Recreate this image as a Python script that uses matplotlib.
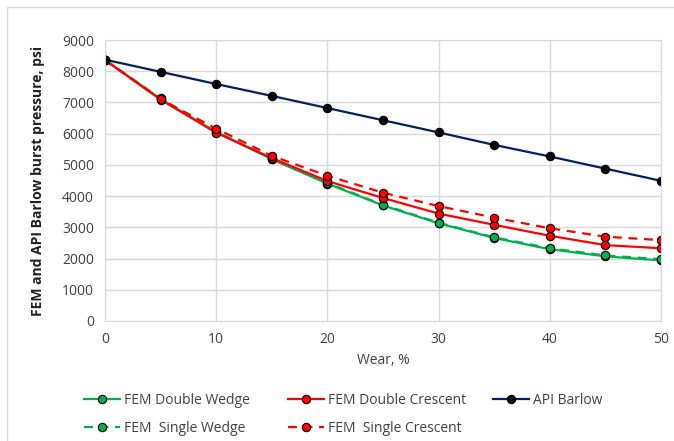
# Wykres ciśnienia rozrywającego w funkcji zużycia
import matplotlib.pyplot as plt
from matplotlib.patches import Rectangle

# Dane
wear = [0, 5, 10, 15, 20, 25, 30, 35, 40, 45, 50]
double_wedge = [8360, 7110, 6050, 5180, 4400, 3700, 3130, 2660, 2300, 2070, 1940]
double_crescent = [8360, 7090, 6030, 5220, 4480, 3940, 3440, 3080, 2730, 2430, 2330]
api_barlow = [8370, 7980, 7590, 7210, 6820, 6430, 6040, 5640, 5270, 4880, 4490]
single_wedge = [8360, 7130, 6070, 5200, 4420, 3720, 3150, 2680, 2330, 2100, 1980]
single_crescent = [8360, 7100, 6160, 5290, 4650, 4110, 3680, 3310, 2970, 2700, 2590]

y_ticks = [0, 1000, 2000, 3000, 4000, 5000, 6000, 7000, 8000, 9000]
x_ticks = [0, 10, 20, 30, 40, 50]

GREEN = '#00B050'
RED = '#FF0000'
NAVY = '#002060'
GRID = '#D9D9D9'

plt.rcParams['font.family'] = ['Open Sans', 'DejaVu Sans']

fig = plt.figure(figsize=(6.74, 4.41), dpi=100)
W, H = 674, 441
ax = fig.add_axes([105 / W, 1 - 321 / H, 556 / W, 281 / H])

# Ramka całego wykresu
fig.patches.append(Rectangle((7 / W, -0.1), 1.2, 1 - 7 / H + 0.1, transform=fig.transFigure,
                             fill=False, edgecolor=GRID, linewidth=1.0))

style = dict(marker='o', markersize=6, markeredgecolor='black', markeredgewidth=0.8, linewidth=1.6)
l_dw, = ax.plot(wear, double_wedge, color=GREEN, markerfacecolor=GREEN, label='FEM Double Wedge', **style)
l_sw, = ax.plot(wear, single_wedge, color=GREEN, markerfacecolor=GREEN, linestyle=(0, (4, 3)),
                label='FEM  Single Wedge', **style)
l_dc, = ax.plot(wear, double_crescent, color=RED, markerfacecolor=RED, label='FEM Double Crescent', **style)
l_sc, = ax.plot(wear, single_crescent, color=RED, markerfacecolor=RED, linestyle=(0, (4, 3)),
                label='FEM  Single Crescent', **style)
l_api, = ax.plot(wear, api_barlow, color=NAVY, markerfacecolor='black', label='API Barlow', **style)

ax.set_xlim(0, 50)
ax.set_ylim(0, 9000)
ax.set_xticks(x_ticks)
ax.set_yticks(y_ticks)
ax.grid(True, color=GRID, linewidth=1.0)
ax.set_axisbelow(True)
for s in ax.spines.values():
    s.set_color(GRID)
ax.tick_params(length=0, labelsize=10, colors='#404040', pad=8)

ax.set_xlabel('Wear, %', fontsize=10, color='#404040', labelpad=4)
ax.set_ylabel('FEM and API Barlow burst pressure, psi', fontsize=10, fontweight='bold',
              color='#202020', labelpad=12)


# Legenda: każda kolumna osobno, żeby odstępy były jak w oryginale
def column_legend(handles, x_px):
    leg = fig.legend(handles, [h.get_label() for h in handles], frameon=False,
                     loc='upper left', bbox_to_anchor=(x_px / W, 1 - 393 / H),
                     fontsize=10, handlelength=2.6, handletextpad=0.3, labelspacing=0.9,
                     borderpad=0, borderaxespad=0)
    for t in leg.get_texts():
        t.set_color('#404040')
    return leg


column_legend([l_dw, l_sw], 84)
column_legend([l_dc, l_sc], 288)
column_legend([l_api], 493)

fig.savefig('out.png', dpi=100)
